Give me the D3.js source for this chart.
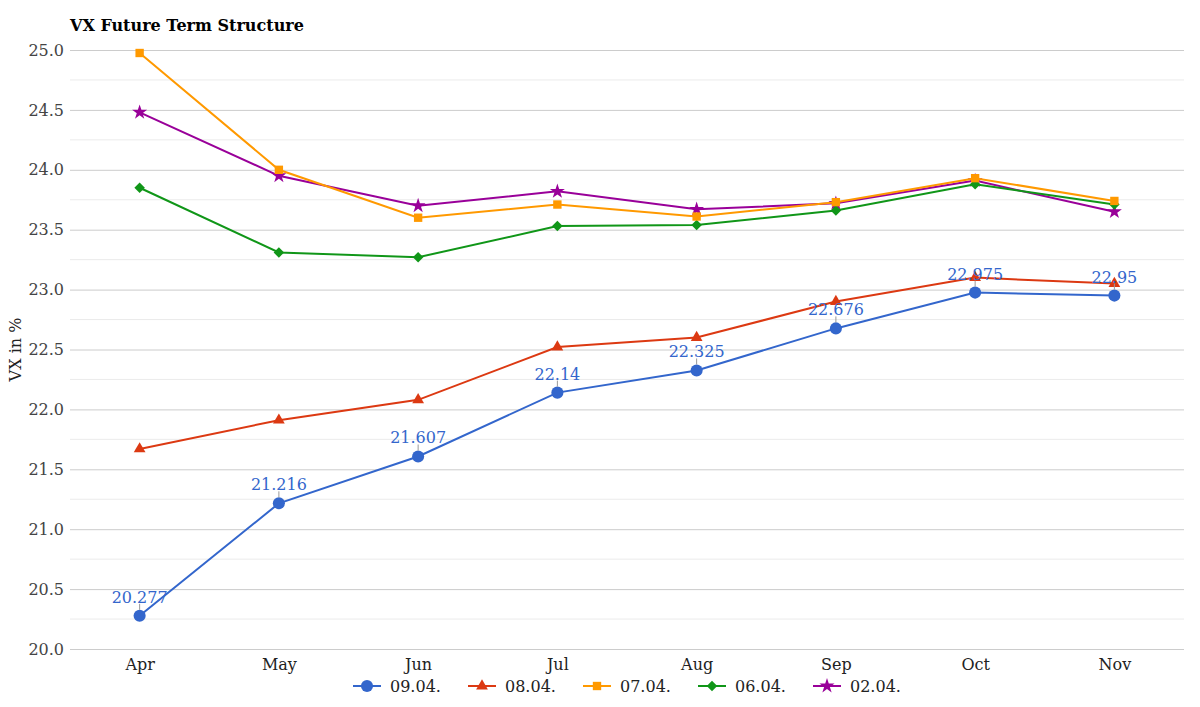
<!DOCTYPE html>
<html>
<head>
<meta charset="utf-8">
<script src="https://cdn.jsdelivr.net/npm/d3@7"></script>
<style>
  body { margin: 0; background: #fff; }
  text { font-family: "DejaVu Serif", serif; }
</style>
</head>
<body>
<div id="canvas"></div>
<script>
// data
const months = ["Apr", "May", "Jun", "Jul", "Aug", "Sep", "Oct", "Nov"];
const seriesNames = ["09.04.", "08.04.", "07.04.", "06.04.", "02.04."];
const vx0904 = [20.277, 21.216, 21.607, 22.14, 22.325, 22.676, 22.975, 22.95];
const vx0804 = [21.67, 21.91, 22.08, 22.52, 22.60, 22.90, 23.10, 23.05];
const vx0704 = [24.975, 24.0, 23.60, 23.71, 23.61, 23.73, 23.93, 23.74];
const vx0604 = [23.85, 23.31, 23.27, 23.53, 23.54, 23.66, 23.88, 23.71];
const vx0204 = [24.48, 23.95, 23.70, 23.82, 23.67, 23.72, 23.91, 23.65];
const yTicks = [20.0, 20.5, 21.0, 21.5, 22.0, 22.5, 23.0, 23.5, 24.0, 24.5, 25.0];

const seriesValues = [vx0904, vx0804, vx0704, vx0604, vx0204];
const colours = ["#3366cc", "#dc3912", "#ff9900", "#109618", "#990099"];
const symbols = [d3.symbolCircle, d3.symbolTriangle, d3.symbolSquare, d3.symbolSquare, d3.symbolStar];
const symbolRot = [0, 0, 0, 45, 0];
const symbolSizes = [115, 60, 70, 55, 70];

// canvas
const W = 1200, H = 707;
const margin = {top: 50, right: 16, bottom: 58, left: 70},
    width = W - margin.left - margin.right,
    height = H - margin.top - margin.bottom;

const svg = d3.select("#canvas")
    .append("svg")
    .attr("width", W)
    .attr("height", H);

const g = svg.append("g")
    .attr("transform", "translate(" + margin.left + "," + margin.top + ")");

// scales
const x = d3.scalePoint()
    .domain(months)
    .range([0, width])
    .padding(0.5);

const y = d3.scaleLinear()
    .domain([20, 25])
    .range([height, 0]);

// minor gridlines
const minor = d3.range(20.25, 25, 0.5);
g.selectAll(".minor")
    .data(minor)
    .join("line")
    .attr("x1", 0)
    .attr("x2", width)
    .attr("y1", d => y(d))
    .attr("y2", d => y(d))
    .attr("stroke", "#ebebeb")
    .attr("stroke-width", 1);

// major gridlines + labels
g.append("g")
    .call(d3.axisLeft(y).tickValues(yTicks).tickSize(-width).tickFormat(d3.format(".1f")))
    .call(a => a.select(".domain").remove())
    .call(a => a.selectAll(".tick line").attr("stroke", "#cccccc"))
    .call(a => a.selectAll(".tick text")
        .attr("x", -6)
        .attr("fill", "#444")
        .style("font-family", "DejaVu Serif")
        .style("font-size", "16px"));

// x axis
g.append("g")
    .attr("transform", "translate(0," + height + ")")
    .call(d3.axisBottom(x).tickSize(0).tickPadding(10))
    .call(a => a.select(".domain").remove())
    .call(a => a.selectAll(".tick text")
        .attr("fill", "#222")
        .style("font-family", "DejaVu Serif")
        .style("font-size", "16px"));

// title
svg.append("text")
    .attr("x", 70)
    .attr("y", 31)
    .attr("font-size", "16px")
    .attr("font-weight", "bold")
    .attr("fill", "#000")
    .text("VX Future Term Structure");

// y axis label
svg.append("text")
    .attr("transform", "translate(21," + (margin.top + height / 2) + ") rotate(-90)")
    .attr("text-anchor", "middle")
    .attr("font-size", "16px")
    .attr("fill", "#222")
    .text("VX in %");

// lines, drawn back to front
const line = d3.line()
    .x((d, i) => x(months[i]))
    .y(d => y(d));

const order = [4, 3, 2, 1, 0];
order.forEach(k => {
    g.append("path")
        .datum(seriesValues[k])
        .attr("fill", "none")
        .attr("stroke", colours[k])
        .attr("stroke-width", 2)
        .attr("d", line);

    g.selectAll(".pt" + k)
        .data(seriesValues[k])
        .join("path")
        .attr("transform", (d, i) => "translate(" + x(months[i]) + "," + y(d) + ") rotate(" + symbolRot[k] + ")")
        .attr("d", d3.symbol().type(symbols[k]).size(symbolSizes[k]))
        .attr("fill", colours[k]);
});

// data labels for 09.04.
const labels = g.append("g");
vx0904.forEach((d, i) => {
    const px = x(months[i]), py = y(d);
    labels.append("line")
        .attr("x1", px).attr("x2", px)
        .attr("y1", py - 6).attr("y2", py - 12)
        .attr("stroke", "#999")
        .attr("stroke-width", 1);
    labels.append("text")
        .attr("x", px)
        .attr("y", py - 13)
        .attr("text-anchor", "middle")
        .attr("font-size", "16px")
        .attr("fill", colours[0])
        .text(d3.format("")(d));
});

// legend
const legend = svg.append("g")
    .attr("transform", "translate(0," + 686 + ")");
const itemW = [115, 115, 115, 115, 100];
let lx = 353;
seriesNames.forEach((name, k) => {
    const item = legend.append("g").attr("transform", "translate(" + lx + ",0)");
    item.append("line")
        .attr("x1", 0).attr("x2", 28)
        .attr("stroke", colours[k])
        .attr("stroke-width", 2);
    item.append("path")
        .attr("transform", "translate(14,0) rotate(" + symbolRot[k] + ")")
        .attr("d", d3.symbol().type(symbols[k]).size(symbolSizes[k]))
        .attr("fill", colours[k]);
    item.append("text")
        .attr("x", 37)
        .attr("y", 6)
        .attr("font-size", "16px")
        .attr("fill", "#222")
        .text(name);
    lx += itemW[k];
});
</script>
</body>
</html>
